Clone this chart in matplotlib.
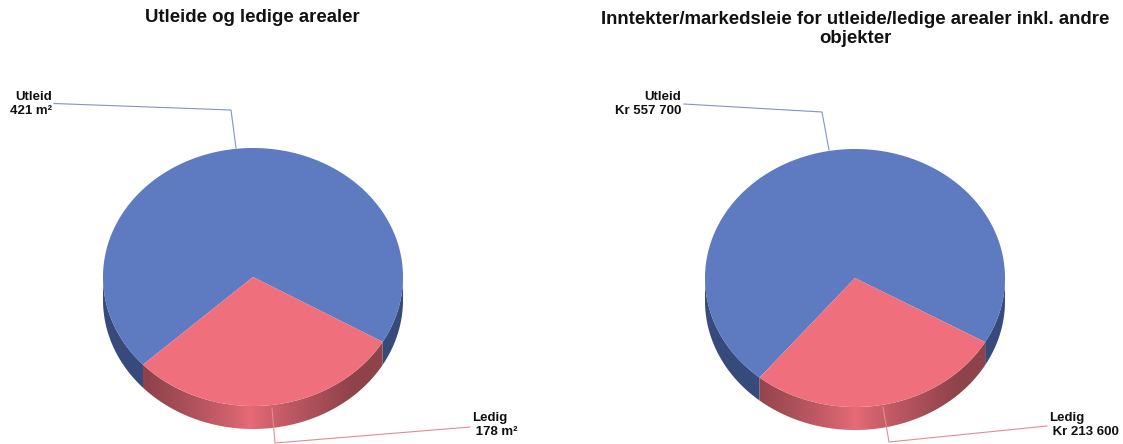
import numpy as np
import matplotlib
matplotlib.use('Agg')
import matplotlib.pyplot as plt
from matplotlib.patches import Polygon

# chart data
names = ['Utleid', 'Ledig']
areal = [421, 178]
inntekt = [557700, 213600]
areal_labels = ['Utleid\n421 m²', 'Ledig\n 178 m²']
inntekt_labels = ['Utleid\nKr 557 700', 'Ledig\n Kr 213 600']
title_left = 'Utleide og ledige arealer'
title_right = 'Inntekter/markedsleie for utleide/ledige arealer inkl. andre\nobjekter'

BLUE = np.array([94, 122, 192]) / 255
RED = np.array([239, 112, 124]) / 255
BLUE_SIDE = np.array([54, 74, 124]) / 255
RED_DARK = np.array([142, 66, 74]) / 255
RED_LIGHT = np.array([232, 108, 120]) / 255

plt.rcParams['font.family'] = ['Liberation Sans', 'DejaVu Sans']

fig = plt.figure(figsize=(11.23, 4.44), dpi=100)
ax = fig.add_axes([0, 0, 1, 1])
ax.set_xlim(0, 1123)
ax.set_ylim(444, 0)
ax.axis('off')


def draw_pie(cx, cy, values, red_start, light_x):
    rx, ry, depth = 150, 129, 23
    frac = values[1] / sum(values)
    red_end = red_start + frac * 360

    def pts(a1, a2, n=200):
        a = np.radians(np.linspace(a1, a2, n))
        return cx + rx * np.cos(a), cy + ry * np.sin(a)

    # blue wall, only the part that faces the viewer
    x, y = pts(red_end, 180)
    side = np.r_[np.c_[x, y], np.c_[x, y + depth][::-1]]
    ax.add_patch(Polygon(side, fc=BLUE_SIDE, ec='none', zorder=1))
    x, y = pts(0, red_start)
    side = np.r_[np.c_[x, y], np.c_[x, y + depth][::-1]]
    ax.add_patch(Polygon(side, fc=BLUE_SIDE, ec='none', zorder=1))

    # red wall, a horizontal gradient image clipped to the wall shape
    x, y = pts(red_start, red_end, 140)
    wall = Polygon(np.r_[np.c_[x, y], np.c_[x, y + depth][::-1]], fc='none', ec='none', zorder=2)
    ax.add_patch(wall)
    gx = np.arange(int(x.min()) - 1, int(x.max()) + 2)
    t = np.minimum(np.abs(gx - light_x) / 105, 1) ** 0.8
    grad = RED_LIGHT[None, :] * (1 - t[:, None]) + RED_DARK[None, :] * t[:, None]
    im = ax.imshow(grad[None, :, :], extent=[gx[0], gx[-1], y.max() + depth + 1, y.min() - 1],
                   aspect='auto', zorder=2, interpolation='bilinear')
    im.set_clip_path(wall)

    # top faces
    x, y = pts(red_end, red_start + 360, 400)
    ax.add_patch(Polygon(np.r_[[[cx, cy]], np.c_[x, y]], fc=BLUE, ec='none', zorder=3))
    x, y = pts(red_start, red_end)
    ax.add_patch(Polygon(np.r_[[[cx, cy]], np.c_[x, y]], fc=RED, ec='none', zorder=4))


def leader(xs, ys, color):
    ax.plot(xs, ys, color=color, lw=0.8, zorder=5, solid_joinstyle='miter')


draw_pie(253, 277, areal, 30.2, 250)
draw_pie(855, 278, inntekt, 29.8, 855)
ax.set_xlim(0, 1123)
ax.set_ylim(444, 0)

leader([54, 231, 236], [103.5, 110, 148], '#7f95c8')
leader([470, 275, 272], [427, 443, 408], '#e58a94')
leader([684, 822, 829], [104, 112, 150], '#7f95c8')
leader([1047, 889, 883], [426, 442, 407], '#e58a94')

tkw = dict(fontsize=9.5, fontweight='bold', color='#111111', linespacing=1.12, zorder=6)
ax.text(52, 104, areal_labels[0], ha='right', va='center', multialignment='right', **tkw)
ax.text(472, 425, areal_labels[1], ha='left', va='center', multialignment='left', **tkw)
ax.text(681, 104, inntekt_labels[0], ha='right', va='center', multialignment='right', **tkw)
ax.text(1049, 425, inntekt_labels[1], ha='left', va='center', multialignment='left', **tkw)

ttl = dict(fontsize=13.4, fontweight='bold', color='#111111', ha='center', va='center')
ax.text(252, 18, title_left, **ttl)
ax.text(855, 29, title_right, linespacing=1.12, **ttl)

fig.savefig('out.png', dpi=100)
